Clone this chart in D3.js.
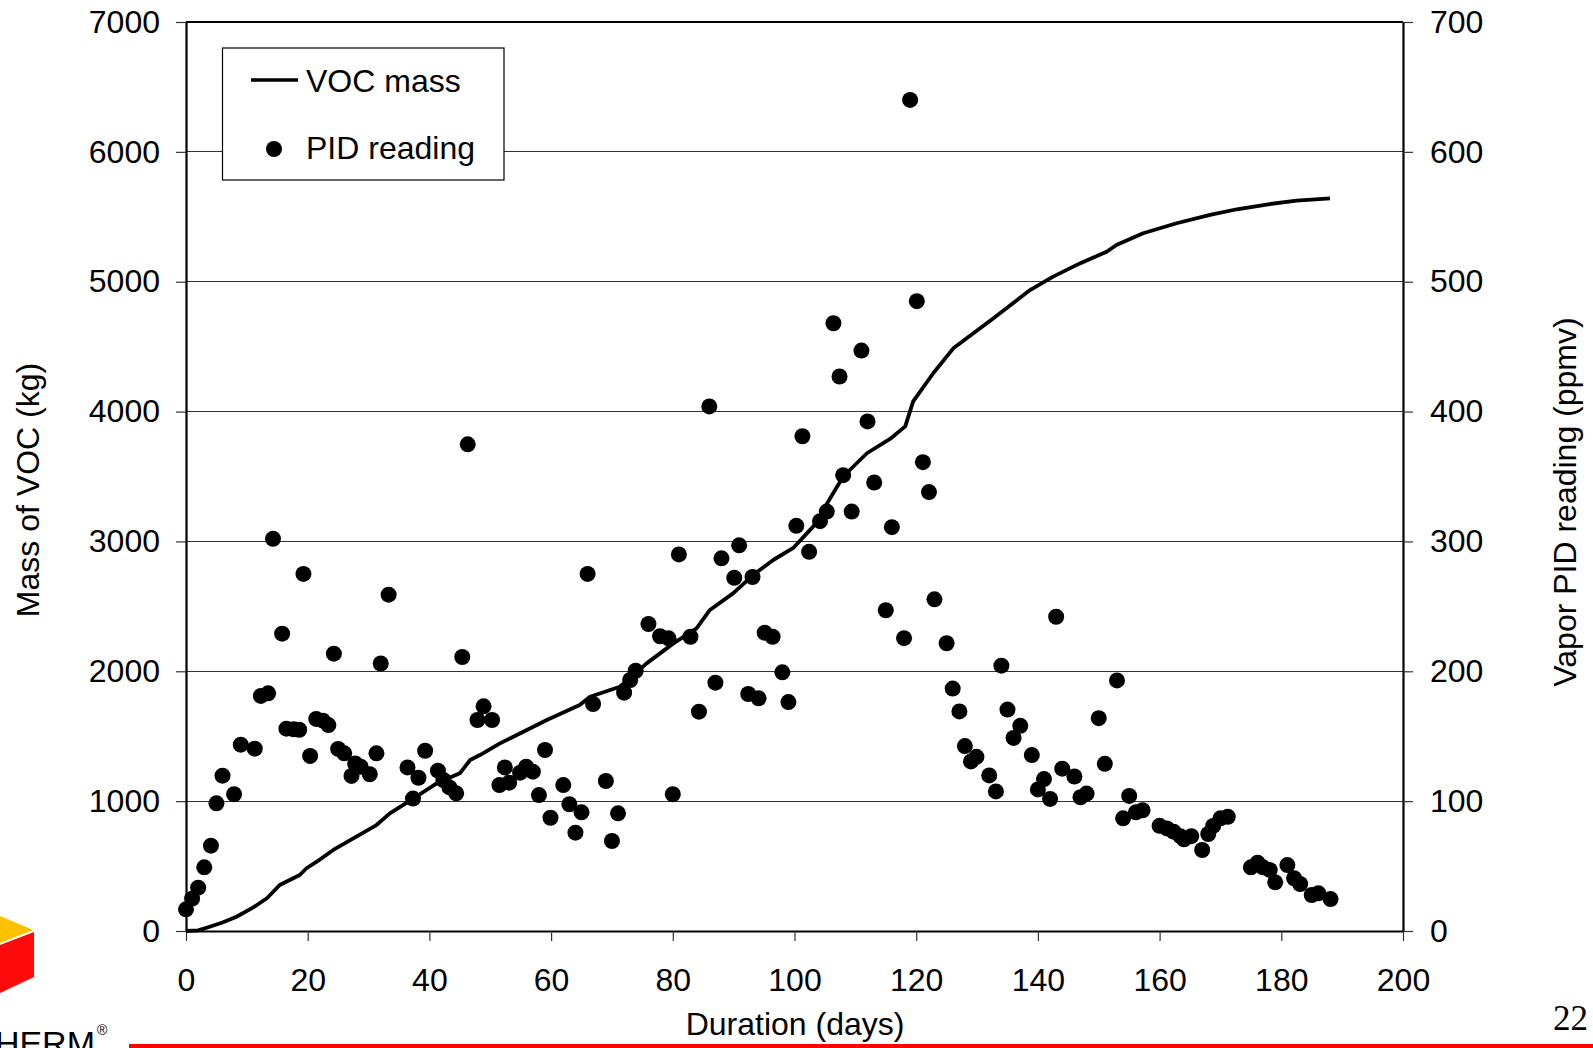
<!DOCTYPE html>
<html>
<head>
<meta charset="utf-8">
<script src="https://cdn.jsdelivr.net/npm/d3@7"></script>
<style>
  html, body { margin: 0; padding: 0; background: #fff; }
  svg { display: block; }
  text { font-family: "Liberation Sans", Arial, sans-serif; fill: #000; }
</style>
</head>
<body>
<svg id="chart" width="1593" height="1048"></svg>
<script>
// ---- Data ----
const vocDays = [0, 2, 3.9, 6, 8.3, 11, 13.3, 15.4, 18.7, 19.8, 22, 24.2, 27.5, 31.3, 33.5, 37.4, 41.2, 45, 46.7, 48.3, 51.6, 53.8, 59.3, 64.7, 66.4, 71.3, 75.7, 80.1, 83.9, 86.1, 89.9, 93.2, 96.5, 99.8, 103.1, 108, 111.9, 115.7, 118.2, 119.5, 122.8, 126.1, 132.7, 138.7, 142.5, 146.9, 151.3, 152.9, 157.3, 162.8, 168.3, 172.7, 178.1, 182.5, 188];
const vocMass = [0, 5, 33, 65, 110, 180, 252, 354, 431, 483, 550, 624, 714, 816, 906, 1022, 1137, 1214, 1317, 1355, 1445, 1496, 1625, 1740, 1804, 1881, 2061, 2215, 2331, 2472, 2600, 2741, 2857, 2950, 3116, 3500, 3679, 3789, 3886, 4078, 4295, 4487, 4718, 4936, 5039, 5141, 5231, 5283, 5373, 5450, 5514, 5558, 5598, 5624, 5642];

const pidDays = [0, 1, 2, 3, 4.1, 5, 6, 7.9, 9, 11.3, 12.3, 13.5, 14.3, 15.8, 16.5, 17.7, 18.6, 19.3, 20.4, 21.4, 22.5, 23.4, 24.3, 25, 26, 27.2, 27.8, 28.7, 30.2, 31.3, 32, 33.3, 36.4, 37.3, 38.2, 39.3, 41.4, 42.3, 43.3, 44.4, 45.4, 46.3, 47.9, 48.9, 50.3, 51.5, 52.4, 53.1, 54.9, 55.9, 57, 58, 59, 59.9, 62, 63, 64, 65, 66, 66.9, 69, 70, 71, 72, 73, 73.9, 76, 77.9, 79.3, 80, 81, 82.9, 84.3, 86, 87, 88, 90.1, 90.9, 92.4, 93.1, 94.1, 95.1, 96.4, 98, 99, 100.3, 101.3, 102.4, 104.2, 105.3, 106.4, 107.4, 108, 109.4, 111, 112, 113.1, 115, 116, 118, 119, 120.1, 121.1, 122.1, 123, 125, 126, 127.1, 128, 129, 129.9, 132, 133.1, 134, 135, 136, 137.1, 139, 140, 141, 142, 143, 144, 146, 147, 148, 150, 151, 153, 154, 155, 156.1, 157.2, 160, 161.2, 162.3, 163.4, 164, 165.2, 167, 168, 168.8, 170, 171.2, 175, 176.1, 177, 178.1, 179, 181, 182.1, 183.1, 185, 186.1, 188.1];
const pidValues = [16.7, 24.9, 33.4, 49, 65.7, 98.3, 119.6, 105.3, 143.5, 140.4, 181, 183, 302, 229, 155.8, 155.3, 155, 275, 134.8, 163.3, 162, 158.6, 213.6, 140.2, 136.8, 119.4, 129, 126.5, 120.7, 136.8, 206, 259, 126, 102, 118, 138.8, 123.5, 116.3, 110.6, 106, 211, 374.8, 162.5, 173, 162.5, 112.4, 126, 114.2, 121.9, 126.5, 122.7, 104.7, 139.4, 87.2, 112.4, 97.6, 75.7, 91.4, 275, 174.8, 115.5, 69.3, 90.6, 183.5, 193.3, 200.4, 236.4, 227, 225.4, 105.3, 290, 226.6, 168.9, 404, 191.2, 287, 272, 297, 182.5, 272.6, 179.2, 229.7, 226.6, 199.2, 176.3, 312, 381, 292, 315.6, 323, 468, 427, 351, 323, 447, 392.4, 345.4, 247, 311, 225.5, 640, 485, 361, 338, 255.4, 221.6, 186.7, 169.1, 142.4, 130.6, 134.1, 119.8, 107.5, 204.3, 170.5, 148.7, 158, 135.5, 109, 117, 101.7, 242, 125, 119, 103, 105.8, 163.9, 128.7, 193, 86.8, 104, 91.4, 93, 81, 79, 76.5, 73, 70.6, 73, 62.4, 74.7, 80.9, 86.8, 88, 49, 52.6, 49, 47, 37.5, 50.8, 40.6, 36.2, 27.7, 29, 24.6];

const xTicks = [0, 20, 40, 60, 80, 100, 120, 140, 160, 180, 200];
const yLeftTicks = [0, 1000, 2000, 3000, 4000, 5000, 6000, 7000];
const yRightTicks = [0, 100, 200, 300, 400, 500, 600, 700];

const xTitle = "Duration (days)";
const yLeftTitle = "Mass of VOC (kg)";
const yRightTitle = "Vapor PID reading (ppmv)";
const legendLabels = ["VOC mass", "PID reading"];
const pageNumber = "22";
const logoText = "TERRATHERM";

// ---- Layout ----
const svg = d3.select("#chart");
const L = 186, R = 1403, T = 22, B = 931;
const x = d3.scaleLinear().domain([0, 200]).range([L, R]);
const yL = d3.scaleLinear().domain([0, 7000]).range([B, T]);
const yR = d3.scaleLinear().domain([0, 700]).range([B, T]);

// gridlines
svg.append("g").selectAll("line").data(yLeftTicks.filter(d => d > 0 && d < 7000)).join("line")
  .attr("x1", L).attr("x2", R).attr("y1", d => yL(d)).attr("y2", d => yL(d))
  .attr("stroke", "#333").attr("stroke-width", 1.2).attr("shape-rendering", "crispEdges");

// axes
const fmt = d3.format("d");
const axL = svg.append("g").attr("transform", `translate(${L},0)`)
  .call(d3.axisLeft(yL).tickValues(yLeftTicks).tickFormat(fmt).tickSize(10).tickPadding(16).tickSizeOuter(0));
const axR = svg.append("g").attr("transform", `translate(${R},0)`)
  .call(d3.axisRight(yR).tickValues(yRightTicks).tickFormat(fmt).tickSize(10).tickPadding(17).tickSizeOuter(0));
const axB = svg.append("g").attr("transform", `translate(0,${B})`)
  .call(d3.axisBottom(x).tickValues(xTicks).tickFormat(fmt).tickSize(10).tickPadding(27).tickSizeOuter(0));
[axL, axR, axB].forEach(g => {
  g.selectAll("text").style("font-size", "32px").attr("fill", "#000");
  g.selectAll(".tick line").attr("stroke", "#333").attr("stroke-width", 1.2);
  g.select(".domain").attr("stroke", "#000").attr("stroke-width", 2.2);
});
// top border
svg.append("line").attr("x1", L).attr("x2", R).attr("y1", T).attr("y2", T)
  .attr("stroke", "#000").attr("stroke-width", 2.2);

// legend
const lg = svg.append("g");
lg.append("rect").attr("x", 222.5).attr("y", 48).attr("width", 281.5).attr("height", 132)
  .attr("fill", "#fff").attr("stroke", "#000").attr("stroke-width", 1.2);
lg.append("line").attr("x1", 251).attr("x2", 298).attr("y1", 80).attr("y2", 80)
  .attr("stroke", "#000").attr("stroke-width", 3.5);
lg.append("text").attr("x", 306).attr("y", 92).style("font-size", "32px").text(legendLabels[0]);
lg.append("circle").attr("cx", 274).attr("cy", 149).attr("r", 8).attr("fill", "#000");
lg.append("text").attr("x", 306).attr("y", 159).style("font-size", "32px").text(legendLabels[1]);

// VOC line
const line = d3.line().x((d, i) => x(vocDays[i])).y(d => yL(d));
svg.append("path").datum(vocMass).attr("d", line)
  .attr("fill", "none").attr("stroke", "#000").attr("stroke-width", 3.8).attr("stroke-linejoin", "round");

// PID points
svg.append("g").selectAll("circle").data(pidValues).join("circle")
  .attr("cx", (d, i) => x(pidDays[i])).attr("cy", d => yR(d)).attr("r", 8).attr("fill", "#000");

// titles
svg.append("text").attr("x", 795).attr("y", 1035).attr("text-anchor", "middle")
  .style("font-size", "32px").text(xTitle);
svg.append("text").attr("transform", "translate(39,490) rotate(-90)").attr("text-anchor", "middle")
  .style("font-size", "32px").text(yLeftTitle);
svg.append("text").attr("transform", "translate(1576,502) rotate(-90)").attr("text-anchor", "middle")
  .style("font-size", "32px").text(yRightTitle);

// footer decorations
svg.append("rect").attr("x", 129).attr("y", 1044).attr("width", 1464).attr("height", 4).attr("fill", "#ff0000");
svg.append("text").attr("x", 1588).attr("y", 1030).attr("text-anchor", "end")
  .style("font-family", "'Liberation Serif', 'Times New Roman', serif").style("font-size", "35px").text(pageNumber);

// logo
svg.append("polygon").attr("points", "0,916 33,930 0,943").attr("fill", "#ffc000");
svg.append("polygon").attr("points", "0,945 34,932 34,977 0,993").attr("fill", "#ff0a0a");
svg.append("text").attr("x", 95).attr("y", 1055).attr("text-anchor", "end")
  .style("font-size", "34px").text(logoText);
svg.append("text").attr("x", 97).attr("y", 1035).style("font-size", "14px").text("®");
</script>
</body>
</html>
